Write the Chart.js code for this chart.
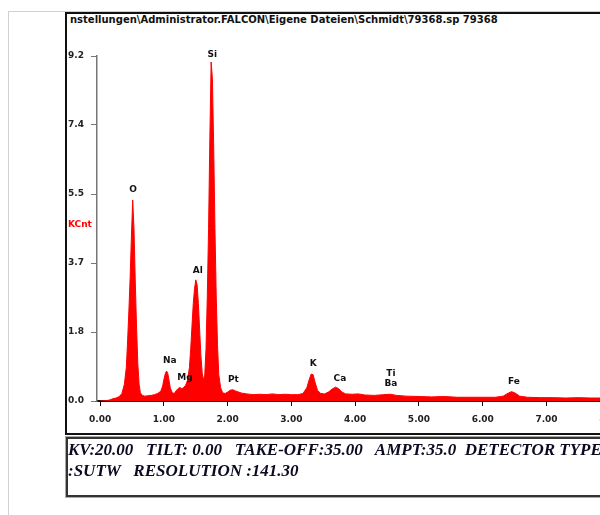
<!DOCTYPE html>
<html>
<head>
<meta charset="utf-8">
<script src="https://cdn.jsdelivr.net/npm/chart.js@4"></script>
<style>
  html, body { margin: 0; padding: 0; background: #fff; }
  #page { position: relative; width: 600px; height: 515px; overflow: hidden; font-family: "DejaVu Sans", Verdana, sans-serif; }
  #frameTop { position: absolute; left: 8px; top: 11px; width: 600px; height: 0; border-top: 1px solid #d0d0d0; }
  #frameLeft { position: absolute; left: 8px; top: 11px; width: 0; height: 520px; border-left: 1px solid #d0d0d0; }
  #box { position: absolute; left: 65px; top: 12px; width: 700px; height: 419px; border: 2px solid #111; border-right: none; }
  #header { position: absolute; left: 70px; top: 14px; font-size: 10px; font-weight: bold; color: #111; white-space: pre; }
  #kcnt { position: absolute; left: 68px; top: 219px; font-size: 9px; font-weight: bold; color: #ff0000; }
  #info { position: absolute; left: 66px; top: 437px; width: 700px; height: 56px; border: 2px solid #333; border-right: none; outline: 1px solid #aaa; }
  #infoText { position: absolute; left: 68px; top: 439px; font-family: "Liberation Serif", "Times New Roman", serif; font-style: italic; font-weight: bold; font-size: 17px; line-height: 21px; color: #0a0a20; white-space: pre; }
  #c { position: absolute; left: 0; top: 0; }
</style>
</head>
<body>
<div id="page">
  <div id="frameTop"></div>
  <div id="frameLeft"></div>
  <div id="box"></div>
  <div id="header">nstellungen\Administrator.FALCON\Eigene Dateien\Schmidt\79368.sp 79368</div>
  <canvas id="c" width="760" height="440"></canvas>
  <div id="kcnt">KCnt</div>
  <div id="info"></div>
  <div id="infoText">KV:20.00   TILT: 0.00   TAKE-OFF:35.00   AMPT:35.0  DETECTOR TYPE
:SUTW   RESOLUTION :141.30</div>
</div>
<script>
// Spektrum: Energie (keV) und Zählrate (KCnt)
const energias = [
  0.00, 0.10, 0.15, 0.20, 0.25, 0.30, 0.34, 0.38, 0.41, 0.43, 0.45, 0.47, 0.49, 0.51, 0.53, 0.55, 0.57, 0.59, 0.61, 0.63,
  0.66, 0.70, 0.75, 0.80, 0.85, 0.90, 0.95, 0.98, 1.00, 1.02, 1.04, 1.06, 1.08, 1.10, 1.13, 1.16, 1.19, 1.22, 1.25, 1.28,
  1.31, 1.34, 1.37, 1.40, 1.42, 1.44, 1.46, 1.48, 1.50, 1.52, 1.54, 1.56, 1.58, 1.60, 1.62, 1.64, 1.66, 1.68, 1.70, 1.72,
  1.74, 1.76, 1.78, 1.80, 1.82, 1.84, 1.86, 1.89, 1.92, 1.96, 2.00, 2.04, 2.08, 2.12, 2.17, 2.22, 2.30, 2.40, 2.50, 2.60,
  2.70, 2.80, 2.90, 3.00, 3.10, 3.18, 3.24, 3.28, 3.31, 3.34, 3.37, 3.41, 3.46, 3.52, 3.58, 3.64, 3.69, 3.74, 3.79, 3.85,
  3.95, 4.05, 4.15, 4.30, 4.45, 4.55, 4.65, 4.80, 5.00, 5.20, 5.40, 5.60, 5.80, 6.00, 6.20, 6.32, 6.40, 6.45, 6.50, 6.58,
  6.70, 6.90, 7.10, 7.30, 7.50, 7.70, 7.90, 8.10, 8.50, 9.00, 9.50, 10.00
];
const contagens = [
  0.00, 0.01, 0.03, 0.06, 0.08, 0.12, 0.20, 0.45, 0.90, 1.60, 2.40, 3.30, 4.40, 5.36, 4.60, 3.20, 2.00, 1.00, 0.45, 0.22,
  0.15, 0.13, 0.14, 0.15, 0.17, 0.20, 0.26, 0.40, 0.58, 0.72, 0.80, 0.74, 0.55, 0.35, 0.22, 0.20, 0.27, 0.33, 0.36, 0.33,
  0.36, 0.42, 0.55, 0.90, 1.40, 2.00, 2.60, 3.00, 3.23, 3.10, 2.60, 1.90, 1.20, 0.75, 0.55, 0.70, 1.40, 2.80, 4.60, 7.00,
  9.04, 8.60, 6.80, 4.60, 2.80, 1.50, 0.70, 0.35, 0.22, 0.20, 0.24, 0.29, 0.30, 0.27, 0.24, 0.21, 0.19, 0.17, 0.18, 0.17,
  0.19, 0.17, 0.18, 0.17, 0.17, 0.20, 0.35, 0.58, 0.72, 0.70, 0.50, 0.28, 0.20, 0.19, 0.24, 0.32, 0.37, 0.33, 0.24, 0.19,
  0.18, 0.19, 0.16, 0.15, 0.17, 0.18, 0.15, 0.13, 0.12, 0.11, 0.12, 0.10, 0.10, 0.10, 0.10, 0.13, 0.21, 0.25, 0.22, 0.13,
  0.10, 0.09, 0.09, 0.08, 0.09, 0.08, 0.08, 0.07, 0.07, 0.06, 0.05, 0.05
];

// Elementos identificados (posição do rótulo em keV / KCnt)
const elementos = ['O', 'Si', 'Al', 'Na', 'Mg', 'Pt', 'K', 'Ca', 'Ti', 'Ba', 'Fe'];
const posEnergia = [0.515, 1.76, 1.53, 1.09, 1.33, 2.09, 3.34, 3.76, 4.56, 4.56, 6.49];
const posAltura = [5.63, 9.23, 3.47, 1.07, 0.61, 0.56, 0.99, 0.59, 0.72, 0.45, 0.51];

// Marcas dos eixos
const ticksY = [0, 1.84, 3.68, 5.52, 7.36, 9.2];
const ticksX = [0, 1, 2, 3, 4, 5, 6, 7, 8, 9, 10];

const pontos = energias.map((e, i) => ({ x: e, y: contagens[i] }));
const fonte = '"DejaVu Sans", Verdana, sans-serif';

// plugin simples para os nomes dos picos
const rotulos = {
  id: 'rotulos',
  afterDatasetsDraw(chart) {
    const ctx = chart.ctx;
    const sx = chart.scales.x, sy = chart.scales.y;
    ctx.save();
    ctx.font = 'bold 9px ' + fonte;
    ctx.fillStyle = '#111';
    ctx.textAlign = 'center';
    ctx.textBaseline = 'middle';
    elementos.forEach((nome, i) => {
      ctx.fillText(nome, sx.getPixelForValue(posEnergia[i]), sy.getPixelForValue(posAltura[i]));
    });
    ctx.restore();
  }
};

new Chart(document.getElementById('c'), {
  type: 'line',
  data: {
    datasets: [{
      data: pontos,
      borderColor: '#ff0000',
      backgroundColor: '#ff0000',
      borderWidth: 1,
      pointRadius: 0,
      tension: 0,
      fill: 'origin'
    }]
  },
  options: {
    responsive: false,
    animation: false,
    events: [],
    layout: { padding: { left: 68, top: 56, right: 19, bottom: 0 } },
    plugins: { legend: { display: false }, tooltip: { enabled: false } },
    scales: {
      x: {
        type: 'linear',
        min: -0.05,
        max: 10,
        afterFit: s => { s.height = 39; },
        afterBuildTicks: s => { s.ticks = ticksX.map(v => ({ value: v })); },
        border: { color: '#111', width: 2 },
        grid: { drawOnChartArea: false, drawTicks: true, tickLength: 5, color: '#111', lineWidth: 1 },
        ticks: {
          padding: 8,
          color: '#222',
          font: { family: fonte, size: 9, weight: 'bold' },
          callback: v => v.toFixed(2)
        }
      },
      y: {
        min: 0,
        max: 9.2,
        afterFit: s => { s.width = 29; },
        afterBuildTicks: s => { s.ticks = ticksY.map(v => ({ value: v })); },
        border: { color: '#777', width: 1.5 },
        grid: { drawOnChartArea: false, drawTicks: true, tickLength: 6, color: '#777', lineWidth: 1 },
        ticks: {
          crossAlign: 'far',
          color: '#222',
          font: { family: fonte, size: 9, weight: 'bold' },
          callback: v => v.toFixed(1)
        }
      }
    }
  },
  plugins: [rotulos]
});
</script>
</body>
</html>
